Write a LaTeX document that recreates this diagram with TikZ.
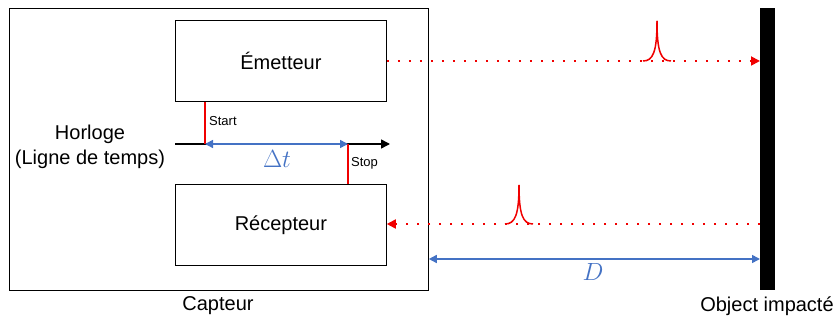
\documentclass[tikz,border=0pt]{standalone}
\usepackage{fontspec}
\setmainfont{Liberation Sans}
\usetikzlibrary{arrows.meta,calc}
\definecolor{myred}{HTML}{F00000}
\definecolor{myblue}{HTML}{4472C4}
\begin{document}
\begin{tikzpicture}[x=1pt,y=-1pt,
  box/.style={draw, line width=0.8pt, inner sep=0pt, anchor=north west},
  lbl/.style={font=\fontsize{20}{24}\selectfont, inner sep=0pt},
  small/.style={font=\fontsize{13}{15}\selectfont, inner sep=0pt, anchor=west},
  sig/.style={myred, line width=1.6pt},
  beam/.style={myred, line width=1.8pt, dash pattern=on 1.8pt off 9.2pt, -{Triangle[length=9pt,width=9pt]}},
  dim/.style={myblue, line width=1.5pt, {Triangle[length=8pt,width=8pt]}-{Triangle[length=8pt,width=8pt]}},
  pulse/.style={myred, line width=1.5pt}]
\useasboundingbox (0,0) rectangle (838,320);
% boxes
\node[box, minimum width=419pt, minimum height=282pt] (capt) at (9,8) {};
\node[box, minimum width=211pt, minimum height=81pt] (emit) at (175,20) {};
\node[lbl] at (emit.center) {Émetteur};
\node[box, minimum width=211pt, minimum height=81pt] (recv) at (175,184) {};
\node[lbl] at (recv.center) {Récepteur};
\node[fill=black, inner sep=0pt, minimum width=15pt, minimum height=282pt, anchor=north west] (obj) at (760,8) {};
% labels
\node[lbl, align=center, font=\fontsize{20}{25}\selectfont] (horl) at (90,147) {Horloge\\(Ligne de temps)};
\node[lbl] (captlbl) at (218,306) {Capteur};
\node[lbl] (objlbl) at (767,306) {Object impacté};
% time axis
\coordinate (t0) at (175,144);
\coordinate (t1) at (390,144);
\draw[line width=1.5pt, -{Triangle[length=9pt,width=9pt]}] (t0) -- (t1);
\coordinate (start) at (205,144);
\coordinate (stop) at (348,144);
\draw[sig] (emit.south -| start) -- (start);
\draw[sig] (stop) -- (recv.north -| stop);
\node[small] (startlbl) at (209,121) {Start};
\node[small] (stoplbl) at (351,163) {Stop};
\draw[dim] (start) -- (stop);
\node[myblue, inner sep=0pt, font=\fontsize{25}{28}\selectfont] (dt) at (277,159) {$\Delta t$};
% beams
\coordinate (e1) at (emit.east |- 0,61);
\draw[beam] (e1) -- (obj.west |- e1);
\coordinate (r1) at (obj.west |- 0,224);
\draw[beam] (r1) -- (recv.east |- r1);
% pulses
\draw[pulse] (643,61) .. controls (653,61) and (657,52) .. (657,21);
\draw[pulse] (657,21) .. controls (657,52) and (661,61) .. (671,61);
\draw[pulse] (505,224) .. controls (515,224) and (519,215) .. (519,185);
\draw[pulse] (519,185) .. controls (519,215) and (523,224) .. (533,224);
% distance
\coordinate (d0) at (capt.east |- 0,259);
\draw[dim] (d0) -- (obj.west |- d0);
\node[myblue, inner sep=0pt, font=\fontsize{24}{28}\selectfont] (dlbl) at (593,272) {$D$};
\end{tikzpicture}
\end{document}
